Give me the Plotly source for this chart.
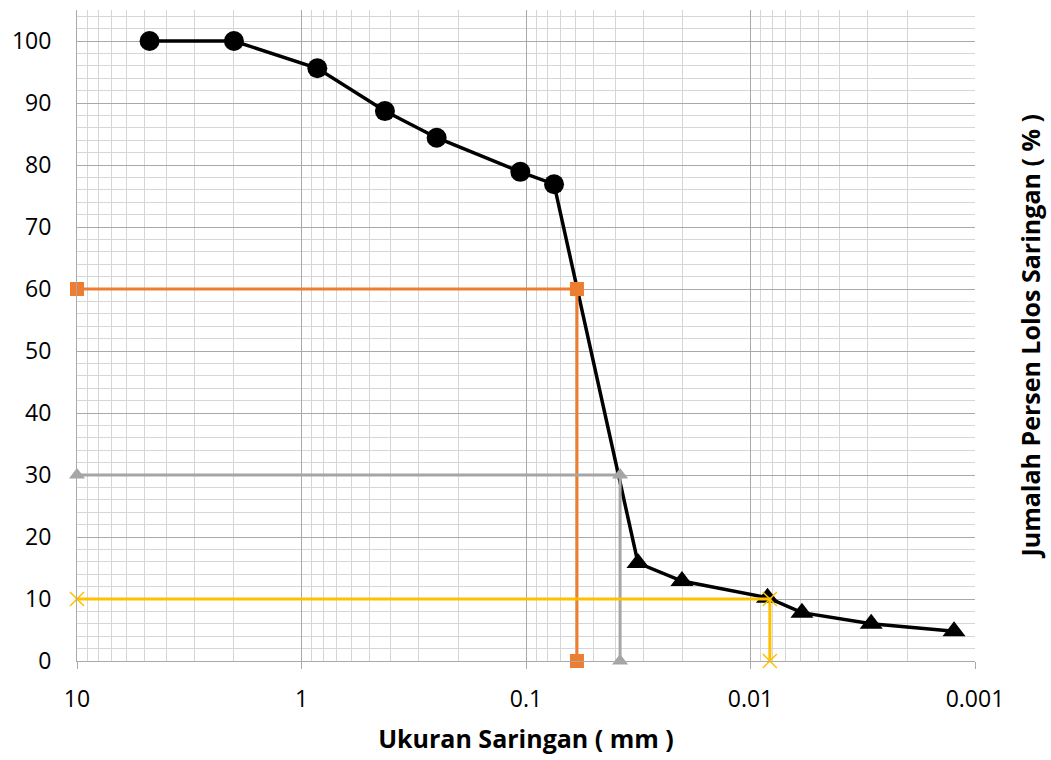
import plotly.graph_objects as go

# Sieve analysis (circles)
sieve_size = [4.75, 2.0, 0.85, 0.425, 0.25, 0.106, 0.075]
sieve_pass = [100, 100, 95.6, 88.7, 84.4, 78.9, 76.9]

# Hydrometer analysis (triangles)
hydro_size = [0.0317, 0.0202, 0.0084, 0.0059, 0.0029, 0.00124]
hydro_pass = [15.8, 12.9, 10.2, 7.8, 6.0, 4.8]

# Characteristic diameters
d60_x = [10, 0.0593, 0.0593]
d60_y = [60, 60, 0]
d30_x = [10, 0.0381, 0.0381]
d30_y = [30, 30, 0]
d10_x = [10, 0.0082, 0.0082]
d10_y = [10, 10, 0]

x_tickvals = [10, 1, 0.1, 0.01, 0.001]
x_ticktext = ["10", "1", "0.1", "0.01", "0.001"]
y_tickvals = [0, 10, 20, 30, 40, 50, 60, 70, 80, 90, 100]

FONT = "Open Sans"
MAJOR = "#a9a9a9"
MINOR = "#d6d6d6"

fig = go.Figure()

fig.add_trace(go.Scatter(
    x=sieve_size + hydro_size, y=sieve_pass + hydro_pass, mode="lines",
    line=dict(color="black", width=3.5), showlegend=False, cliponaxis=False))
fig.add_trace(go.Scatter(
    x=sieve_size, y=sieve_pass, mode="markers",
    marker=dict(symbol="circle", size=20, color="black"), showlegend=False, cliponaxis=False))
fig.add_trace(go.Scatter(
    x=hydro_size, y=hydro_pass, mode="markers",
    marker=dict(symbol="triangle-up", size=20, color="black"), showlegend=False, cliponaxis=False))

fig.add_trace(go.Scatter(
    x=d60_x, y=d60_y, mode="lines+markers",
    line=dict(color="#ED7D31", width=3),
    marker=dict(symbol="square", size=14, color="#ED7D31"), showlegend=False, cliponaxis=False))
fig.add_trace(go.Scatter(
    x=d30_x, y=d30_y, mode="lines+markers",
    line=dict(color="#A5A5A5", width=3),
    marker=dict(symbol="triangle-up", size=14, color="#A5A5A5"), showlegend=False, cliponaxis=False))
fig.add_trace(go.Scatter(
    x=d10_x, y=d10_y, mode="lines+markers",
    line=dict(color="#FFC000", width=3),
    marker=dict(symbol="x-thin-open", size=14, color="#FFC000", line=dict(color="#FFC000", width=1.5)),
    showlegend=False, cliponaxis=False))

fig.update_layout(
    width=1051, height=760,
    margin=dict(l=77, r=76, t=10, b=99),
    plot_bgcolor="white", paper_bgcolor="white",
    font=dict(family=FONT, size=23, color="black"),
    xaxis=dict(
        type="log", range=[1, -3],
        tickmode="array", tickvals=x_tickvals, ticktext=x_ticktext,
        showgrid=True, gridcolor=MAJOR, gridwidth=1,
        minor=dict(tickmode="linear", dtick="D1", showgrid=True, gridcolor=MINOR, gridwidth=1, ticks=""),
        showline=True, linecolor=MAJOR, linewidth=1,
        ticks="outside", ticklen=7, tickcolor=MAJOR,
        ticklabelstandoff=10,
        tickfont=dict(size=23, family=FONT),
        title=dict(text="<b>Ukuran Saringan ( mm )</b>", font=dict(size=25, family=FONT), standoff=17),
        zeroline=False,
    ),
    yaxis=dict(
        range=[0, 105], tickmode="array", tickvals=y_tickvals,
        showgrid=True, gridcolor=MAJOR, gridwidth=1,
        minor=dict(tickmode="linear", tick0=0, dtick=2, showgrid=True, gridcolor=MINOR, gridwidth=1),
        showline=True, linecolor=MAJOR, linewidth=1,
        ticks="", ticklabelstandoff=20,
        tickfont=dict(size=23, family=FONT),
        zeroline=False,
    ),
    annotations=[dict(
        text="<b>Jumalah Persen Lolos Saringan ( % )</b>",
        xref="paper", yref="paper", x=1.061, y=0.498,
        textangle=-90, showarrow=False, font=dict(size=25, family=FONT),
        xanchor="center", yanchor="middle")],
)

fig.write_html("out.html")
